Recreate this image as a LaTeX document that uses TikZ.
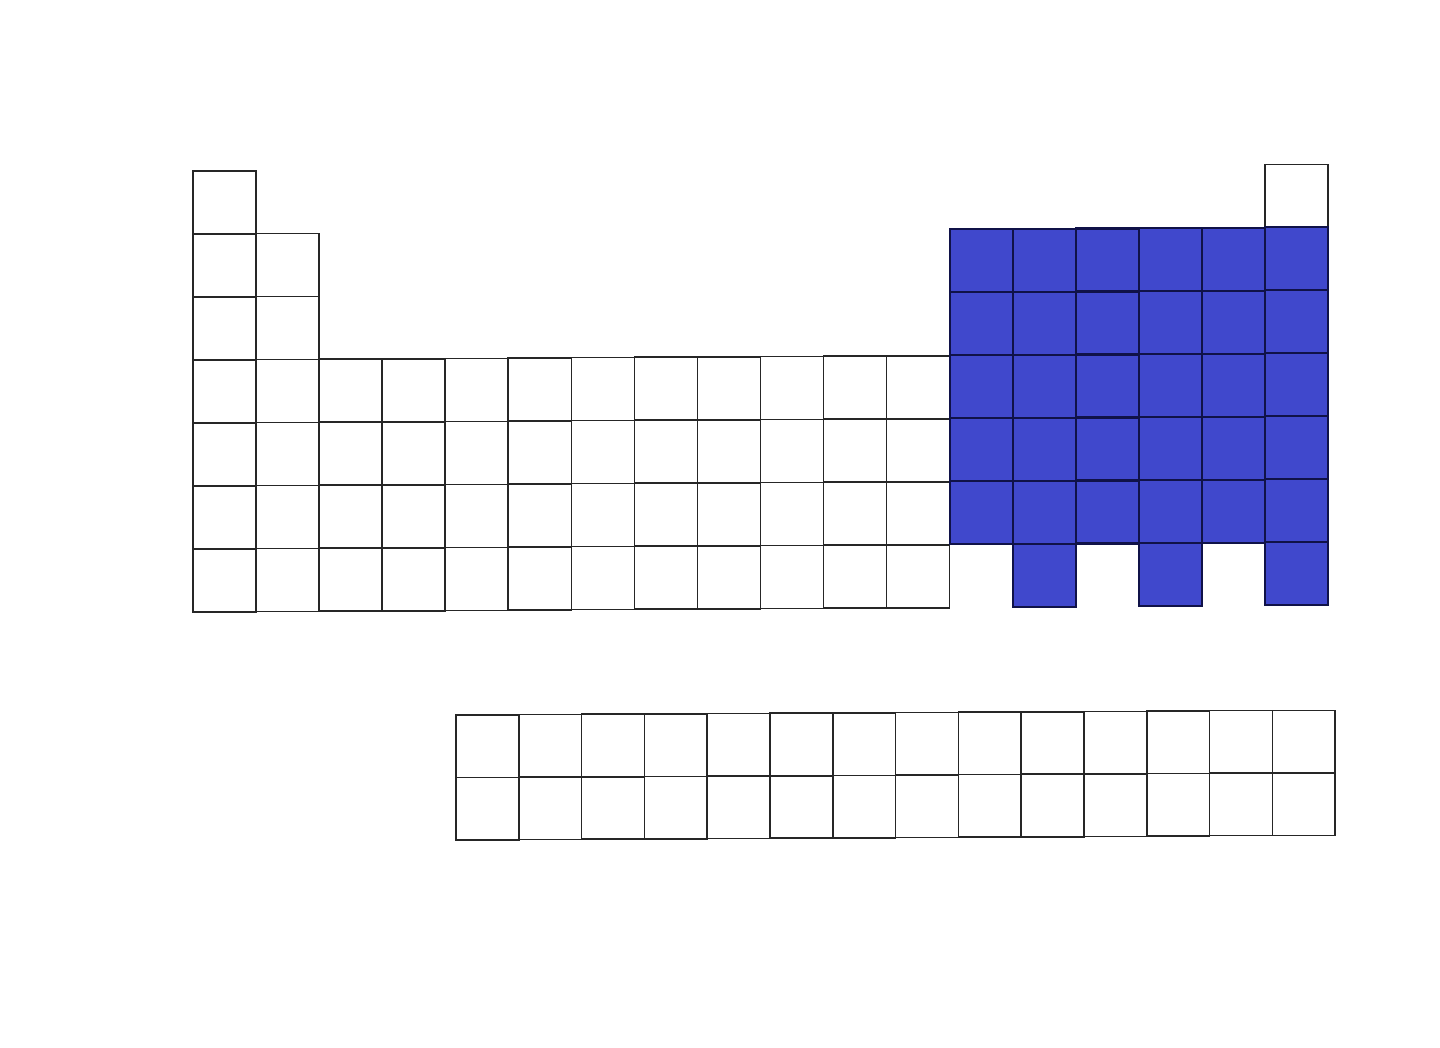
\documentclass[tikz,border=0pt]{standalone}
\definecolor{pblue}{RGB}{64,72,204}
\definecolor{navy}{RGB}{16,18,72}
\newcommand\wcell[2]{\draw[cellw] ({193+(#1-1)*63.05},{171+(#2-1)*63-0.39*(#1-1)}) rectangle ++(63.05,63);}
\newcommand\bcell[2]{\draw[cellb] ({193+(#1-1)*63.05},{171+(#2-1)*63-0.39*(#1-1)}) rectangle ++(63.05,63);}
\newcommand\lcell[2]{\draw[cellw] ({456+(#1-1)*62.8},{715+(#2-1)*62.5-0.36*(#1-1)}) rectangle ++(62.8,62.5);}
\begin{document}
\begin{tikzpicture}[x=1pt,y=-1pt,
  cellw/.style={draw=black!85,line width=1.6pt},
  cellb/.style={fill=pblue,draw=navy,line width=2.2pt}]
\useasboundingbox[fill=white] (0,0) rectangle (1440,1048);
% row 1
\wcell{1}{1}
\wcell{18}{1}
% rows 2-3, s-block
\foreach \r in {2,3}{\foreach \c in {1,2}{\wcell{\c}{\r}}}
% rows 4-7, columns 1-12
\foreach \r in {4,...,7}{\foreach \c in {1,...,12}{\wcell{\c}{\r}}}
% p-block (blue)
\foreach \r in {2,...,6}{\foreach \c in {13,...,18}{\bcell{\c}{\r}}}
\bcell{14}{7}
\bcell{16}{7}
\bcell{18}{7}
% lanthanides and actinides
\foreach \r in {1,2}{\foreach \c in {1,...,14}{\lcell{\c}{\r}}}
\end{tikzpicture}
\end{document}
